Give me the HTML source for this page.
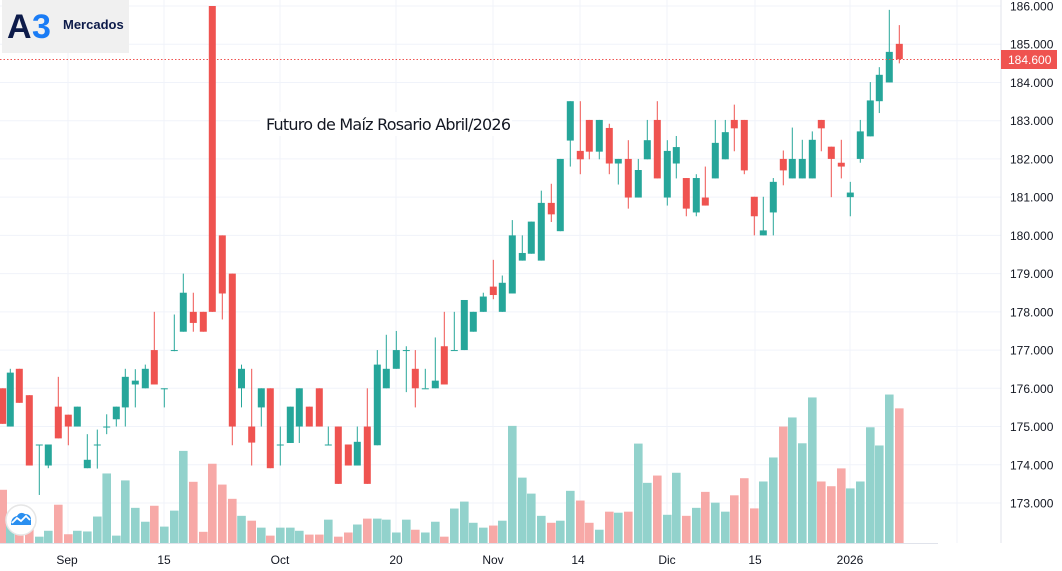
<!DOCTYPE html>
<html><head><meta charset="utf-8"><style>
html,body{margin:0;padding:0;background:#fff;}
body{width:1062px;height:571px;overflow:hidden;position:relative;font-family:"Liberation Sans",sans-serif;}
svg{position:absolute;left:0;top:0;}
</style></head><body>
<svg id="c" width="1062" height="571" viewBox="0 0 1062 571" xmlns="http://www.w3.org/2000/svg"></svg>
<script>
const NS="http://www.w3.org/2000/svg",S=document.getElementById('c');
function el(t,a,txt){const e=document.createElementNS(NS,t);for(const k in a)e.setAttribute(k,a[k]);if(txt!=null)e.textContent=txt;S.appendChild(e);return e;}
const Y=p=>6+(186-p)*38.23;
// grid
for(let p=173;p<=186;p++){el('line',{x1:0,x2:1001,y1:Y(p),y2:Y(p),stroke:'#f0f3fa','stroke-width':1});}
[68,164,280,396,493,580,667,755,850,957].forEach(x=>el('line',{x1:x,x2:x,y1:0,y2:543,stroke:'#f0f3fa','stroke-width':1}));
const D=[[2.7,176.0,176.0,175.07,175.07],[10.3,175.0,176.51,175.0,176.41],[19.3,176.51,176.51,175.62,175.62],[29.3,175.82,175.82,173.98,173.98],[39.3,174.53,174.53,173.21,174.53],[48.3,173.98,174.53,173.91,174.53],[58.3,175.52,176.3,174.69,174.69],[68.3,175.31,175.31,174.51,175.0],[77.3,175.0,175.52,175.0,175.52],[87.3,173.91,174.8,173.91,174.13],[97.3,174.53,174.92,173.9,174.53],[106.7,175.0,175.32,174.8,175.0],[116.3,175.19,175.52,175.0,175.52],[125.3,175.5,176.51,175.0,176.3],[135.3,176.1,176.5,175.5,176.2],[145.3,176.0,176.62,176.0,176.51],[154.3,177.0,178.0,176.1,176.1],[164.3,176.0,176.0,175.5,176.0],[174.3,177.0,177.93,176.97,177.0],[183.3,177.48,179.0,177.48,178.5],[193.3,178.0,178.5,177.48,177.71],[203.3,178.0,178.0,177.48,177.48],[212.3,186.0,186.0,178.0,178.0],[222.3,180.0,180.0,177.8,178.48],[232.3,179.0,179.0,174.51,175.0],[241.5,176.0,176.62,175.5,176.51],
[251.7,175.0,176.51,173.98,174.58],[261.3,175.5,176.0,175.0,176.0],[270.3,176.0,176.0,173.91,173.91],[280.3,174.53,175.0,173.98,174.53],[290.3,174.57,175.52,174.57,175.52],[299.3,175.0,176.0,174.57,176.0],[309.3,175.52,175.52,175.0,175.0],[319.3,176.0,176.0,175.0,175.0],[328.3,174.53,175.0,174.53,174.53],[338.3,175.0,175.0,173.5,173.5],[348.3,174.53,174.53,173.98,173.98],[357.3,173.98,175.0,173.98,174.6],[367.3,175.0,176.0,173.5,173.5],[377.3,174.51,177.0,174.51,176.62],[386.3,176.0,177.4,176.0,176.51],[396.3,176.51,177.5,176.51,177.0],[406.3,177.0,177.1,175.9,177.0],[415.3,176.51,177.0,175.5,176.0],[425.3,176.0,176.51,176.0,176.0],[435.3,176.0,177.33,176.0,176.2],[444.3,177.1,178.0,176.1,176.1],[454.3,177.0,178.0,177.0,177.0],[464.3,177.0,178.31,177.0,178.31],[473.3,177.48,178.0,177.48,178.0],[483.3,178.0,178.5,178.0,178.4],
[493.3,178.66,179.36,178.33,178.44],[502.3,178.0,178.95,178.0,178.76],[512.3,178.48,180.4,178.48,180.0],[522.3,179.34,180.0,179.34,179.54],[531.3,179.52,180.36,179.52,180.36],[541.3,179.34,181.17,179.34,180.85],[551.3,180.85,181.35,180.35,180.55],[560.3,180.11,182.0,180.11,182.0],[570.3,182.48,183.51,181.8,183.51],[580.3,182.21,183.51,181.6,181.99],[589.3,183.02,183.02,181.99,182.19],[599.3,182.19,183.02,181.99,183.02],[609.3,182.81,182.92,181.6,181.88],[618.3,181.88,182.0,181.33,182.0],[628.3,182.0,182.49,180.7,180.99],[638.3,180.99,182.0,180.99,181.71],[647.3,181.99,183.02,181.99,182.49],[657.3,183.02,183.51,181.49,181.49],[667.3,180.99,182.49,180.78,182.21],[676.3,181.88,182.6,181.49,182.31],[686.3,181.5,181.5,180.5,180.7],[696.3,180.6,181.6,180.5,181.5],[705.3,180.99,181.8,180.78,180.78],[715.3,181.49,183.02,181.49,182.42],[725.3,181.99,183.02,181.99,182.7],
[734.3,183.02,183.42,182.2,182.8],[744.3,183.02,183.02,181.6,181.7],[754.3,181.01,181.01,180.0,180.5],[763.3,180.0,181.01,180.0,180.13],[773.3,180.6,181.5,180.0,181.4],[783.3,182.0,182.22,181.31,181.7],[792.3,181.49,182.82,181.49,182.0],[802.3,181.49,182.5,181.49,182.0],[812.3,181.49,182.72,181.49,182.5],[821.3,183.02,183.02,182.2,182.8],[831.3,182.32,182.32,181.0,182.0],[841.3,181.9,182.5,181.49,181.8],[850.3,181.0,181.4,180.5,181.12],[860.3,182.0,183.02,181.9,182.72],[870.3,182.59,184.01,182.59,183.53],[879.3,183.51,184.4,183.2,184.2],[889.3,184.0,185.9,184.0,184.8],[899.3,185.01,185.5,184.5,184.61]];
const V1=[1410,1500,1500,1510,1545,1528,1453,1538,1528,1530,1487,1363,1542,1383,1462,1502,1456,1516,1470,1298,1387,1531,1335,1395,1436,1485,
1499,1519,1542,1519,1519,1528,1539,1539,1496,1545,1533,1510,1493,1493,1496,1533,1496,1525,1533,1502,1545,1464,1444,1505,1519,
1513,1499,1226,1375,1421,1485,1505,1499,1413,1441,1505,1525,1473,1476,1473,1277,1390,1369,1482,1361,1485,1462,1416,1447,1473];
const V2=[1362,1315,1398,1324,1258,1173,1148,1219,1093,1324,1337,1288,1343,1324,1175,1225,1085,1123];
const vt=i=>i<V1.length?6+(V1[i]-17)*0.3473:6+(V2[i-V1.length]-17)*0.3638;
// volumes
D.forEach((d,i)=>{const up=d[4]>=d[1];const t=vt(i);el('rect',{x:d[0]-4.3,y:t,width:8.6,height:543-t,fill:up?'#92d2cc':'#f7a9a7'});});
// candles
D.forEach(d=>{const [x,o,h,l,c]=d;const up=c>=o;const col=up?'#26a69a':'#ef5350';
el('line',{x1:x,x2:x,y1:Y(h),y2:Y(l),stroke:col,'stroke-width':1});
const t=Y(Math.max(o,c)),b=Y(Math.min(o,c));el('rect',{x:x-3.5,y:t,width:7,height:Math.max(1,b-t),fill:col});});
// last price line
el('line',{x1:0,x2:1001,y1:59.5,y2:59.5,stroke:'#ef5350','stroke-width':1,'stroke-dasharray':'1.5,2'});
// axes
el('line',{x1:1001,x2:1001,y1:0,y2:543,stroke:'#e0e3eb'});
el('line',{x1:0,x2:938,y1:543.5,y2:543.5,stroke:'#e0e3eb'});
for(let p=173;p<=186;p++){el('text',{x:1010,y:Y(p)+4.5,'font-size':12,fill:'#131722','font-family':'Liberation Sans'},p+'.000');}
el('rect',{x:1001,y:50,width:56,height:19,fill:'#ef5350'});
el('text',{x:1008,y:64,'font-size':12,fill:'#fff','font-family':'Liberation Sans'},'184.600');
[['Sep',67],['15',164],['Oct',280],['20',396],['Nov',493],['14',578],['Dic',667],['15',755],['2026',850]].forEach(a=>el('text',{x:a[1],y:564,'font-size':12,fill:'#131722','text-anchor':'middle','font-family':'Liberation Sans'},a[0]));
// title
el('rect',{x:260,y:112,width:252,height:24,fill:'#fff'});
el('text',{x:266,y:130,'font-size':16,fill:'#131722','font-family':'DejaVu Sans','textLength':245},'Futuro de Maíz Rosario Abril/2026');
// logo
el('rect',{x:2,y:0,width:127,height:53,fill:'#f0f0f0'});
el('text',{x:7,y:38,'font-size':34,'font-weight':'bold',fill:'#0d1b4a','font-family':'Liberation Sans'},'A');
el('text',{x:32,y:38,'font-size':34,'font-weight':'bold',fill:'#1a7cf5','font-family':'Liberation Sans'},'3');
el('text',{x:63,y:29,'font-size':13,'font-weight':'bold',fill:'#0d1b4a','font-family':'Liberation Sans'},'Mercados');
// icon
el('circle',{cx:21,cy:520,r:15,fill:'#fff',stroke:'#e6e6e6','stroke-width':1.5});
el('path',{d:'M11 525 Q11 517 17 516 Q20 511 25 514 Q31 514 31 520 L31 525 Z',fill:'#2a8ff0'});
el('path',{d:'M12 523 L17 518 L21 521 L26 516 L30 520',stroke:'#fff','stroke-width':1.8,fill:'none'});
</script>
</body></html>
